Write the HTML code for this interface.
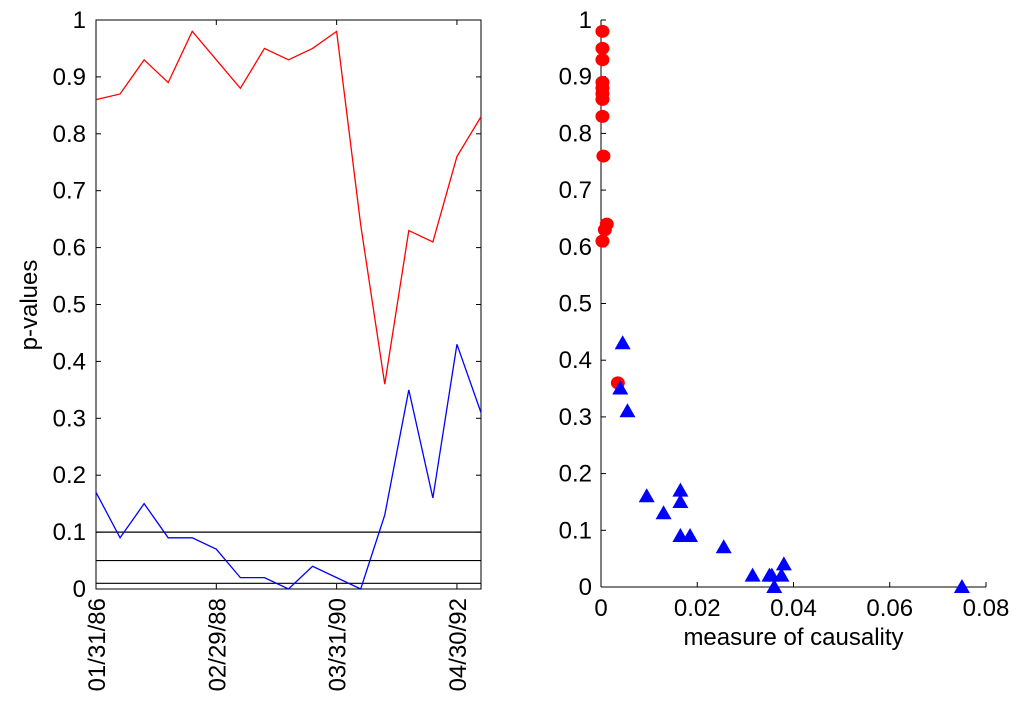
<!DOCTYPE html>
<html><head><meta charset="utf-8"><style>
body{margin:0;background:#fff;}
svg text{font-family:"Liberation Sans",Arial,sans-serif;}
</style></head><body>
<svg id="c" width="1024" height="710" xmlns="http://www.w3.org/2000/svg"></svg>
<script>
const redP=[0.86,0.87,0.93,0.89,0.98,0.93,0.88,0.95,0.93,0.95,0.98,0.64,0.36,0.63,0.61,0.76,0.83];
const blueP=[0.17,0.09,0.15,0.09,0.09,0.07,0.02,0.02,0.0,0.04,0.02,0.0,0.13,0.35,0.16,0.43,0.31];
const dateTicks=[[0,"01/31/86"],[5,"02/29/88"],[10,"03/31/90"],[15,"04/30/92"]];
const thresholds=[0.1,0.05,0.01];
const yTicks=[0,0.1,0.2,0.3,0.4,0.5,0.6,0.7,0.8,0.9,1];
const xTicksR=[0,0.02,0.04,0.06,0.08];
const redX=[0.0003,0.0003,0.0003,0.0003,0.0003,0.0003,0.0003,0.0003,0.0005,0.0012,0.0008,0.0003,0.0035];
const redY=[0.98,0.95,0.93,0.89,0.88,0.87,0.86,0.83,0.76,0.64,0.63,0.61,0.36];
const blueX=[0.0045,0.004,0.0055,0.0095,0.0165,0.0165,0.013,0.0165,0.0185,0.0255,0.0315,0.0355,0.0375,0.038,0.036,0.075,0.035];
const blueY=[0.43,0.35,0.31,0.16,0.17,0.15,0.13,0.09,0.09,0.07,0.02,0.02,0.02,0.04,0.0,0.0,0.02];

const S="http://www.w3.org/2000/svg",svg=document.getElementById('c');
function el(t,a,p){const e=document.createElementNS(S,t);for(const k in a)e.setAttribute(k,a[k]);(p||svg).appendChild(e);return e;}
const FS=24;
const L={x0:96,x1:481,y0:589,y1:20};
const lx=i=>L.x0+i*(L.x1-L.x0)/(redP.length-1);
const ly=v=>L.y0-v*(L.y0-L.y1);
let e=el('rect',{x:L.x0,y:L.y1,width:L.x1-L.x0,height:L.y0-L.y1,fill:'none',stroke:'#000','stroke-width':1});

yTicks.forEach(v=>{
 el('line',{x1:L.x0,x2:L.x0+5,y1:ly(v),y2:ly(v),stroke:'#000'});
 el('line',{x1:L.x1,x2:L.x1-5,y1:ly(v),y2:ly(v),stroke:'#000'});
 const t=el('text',{x:L.x0-10,y:ly(v)+8,'text-anchor':'end','font-size':FS});t.textContent=String(v);
 
});
dateTicks.forEach(([i,s])=>{
 el('line',{x1:lx(i),x2:lx(i),y1:L.y0,y2:L.y0-5,stroke:'#000'});
 el('line',{x1:lx(i),x2:lx(i),y1:L.y1,y2:L.y1+5,stroke:'#000'});
 const t=el('text',{x:0,y:0,'text-anchor':'end','font-size':FS,transform:`translate(${lx(i)+9},${L.y0+9}) rotate(-90)`});t.textContent=s;
 
});
thresholds.forEach(v=>{const l=el('line',{x1:L.x0,x2:L.x1,y1:ly(v),y2:ly(v),stroke:'#000','stroke-width':1.2});
 });
e=el('polyline',{points:redP.map((v,i)=>lx(i)+','+ly(v)).join(' '),fill:'none',stroke:'#f00','stroke-width':1.3});

e=el('polyline',{points:blueP.map((v,i)=>lx(i)+','+ly(v)).join(' '),fill:'none',stroke:'#00f','stroke-width':1.3});

e=el('text',{x:0,y:0,'text-anchor':'middle','font-size':FS,transform:'translate(37,305) rotate(-90)'});e.textContent='p-values';

const R={x0:601,x1:986,y0:587,y1:20};
const rx=v=>R.x0+v/0.08*(R.x1-R.x0);
const ry=v=>R.y0-v*(R.y0-R.y1);
el('line',{x1:R.x0,x2:R.x0,y1:R.y0,y2:R.y1,stroke:'#000'});
el('line',{x1:R.x0,x2:R.x1,y1:R.y0,y2:R.y0,stroke:'#000'});
yTicks.forEach(v=>{el('line',{x1:R.x0,x2:R.x0+5,y1:ry(v),y2:ry(v),stroke:'#000'});
 const t=el('text',{x:R.x0-9,y:ry(v)+8,'text-anchor':'end','font-size':FS});t.textContent=String(v);
 });
xTicksR.forEach(v=>{el('line',{x1:rx(v),x2:rx(v),y1:R.y0,y2:R.y0-5,stroke:'#000'});
 const t=el('text',{x:rx(v),y:R.y0+29,'text-anchor':'middle','font-size':FS});t.textContent=String(v);
 });
e=el('text',{x:rx(0.04),y:645,'text-anchor':'middle','font-size':FS});e.textContent='measure of causality';

redX.forEach((x,i)=>{const c=el('ellipse',{cx:rx(x),cy:ry(redY[i]),rx:7,ry:6.5,fill:'#f00'});
 });
blueX.forEach((x,i)=>{const X=rx(x),Y=ry(blueY[i]);
 const p=el('polygon',{points:`${X},${Y-8} ${X-8},${Y+6} ${X+8},${Y+6}`,fill:'#00f'});
 });
</script>
</body></html>
